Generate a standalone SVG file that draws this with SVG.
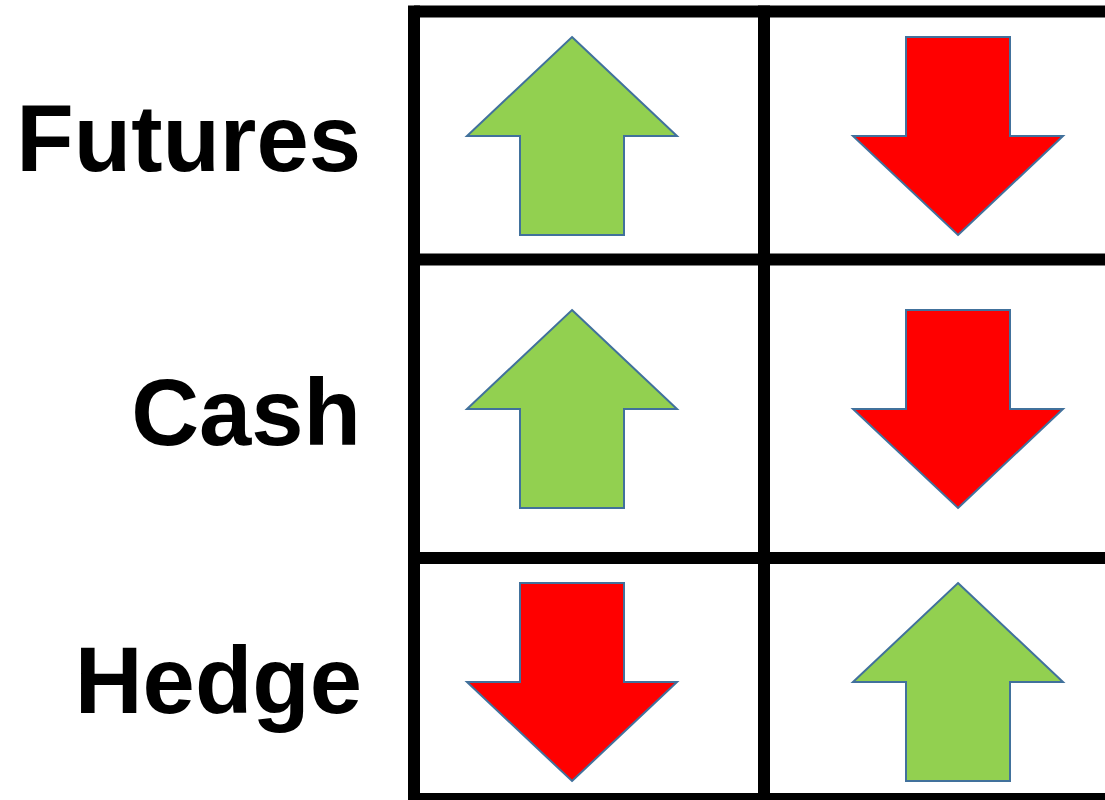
<svg xmlns="http://www.w3.org/2000/svg" width="1105" height="800" viewBox="0 0 1105 800">
<style>
.lbl{font-family:"Liberation Sans",Arial,sans-serif;font-weight:bold;font-size:94px;fill:#000;text-anchor:end}
.grid{stroke:#000;stroke-width:12;fill:none}
.up{fill:#92D050;stroke:#41719C;stroke-width:2}
.down{fill:#FF0000;stroke:#41719C;stroke-width:2}
</style>
<defs>
<path id="upArrow" d="M0,-99 L105,0 L52,0 L52,99 L-52,99 L-52,0 L-105,0 Z"/>
<path id="downArrow" d="M0,99 L105,0 L52,0 L52,-99 L-52,-99 L-52,0 L-105,0 Z"/>
</defs>
<rect width="1105" height="800" fill="#fff"/>
<g id="grid">
<line class="grid" x1="414" y1="11.5" x2="1110" y2="11.5"/>
<line class="grid" x1="414" y1="259.5" x2="1110" y2="259.5"/>
<line class="grid" x1="414" y1="558" x2="1110" y2="558"/>
<line class="grid" x1="414" y1="799" x2="1110" y2="799"/>
<line class="grid" x1="414" y1="5.5" x2="414" y2="805"/>
<line class="grid" x1="764" y1="5.5" x2="764" y2="805"/>
</g>
<g id="labels">
<text id="futures" class="lbl" x="361" y="171">Futures</text>
<text id="cash" class="lbl" x="361" y="445">Cash</text>
<text id="hedge" class="lbl" x="362" y="713">Hedge</text>
</g>
<g id="arrows">
<use id="a11" href="#upArrow" class="up" transform="translate(572,136)"/>
<use id="a12" href="#downArrow" class="down" transform="translate(958,136)"/>
<use id="a21" href="#upArrow" class="up" transform="translate(572,409)"/>
<use id="a22" href="#downArrow" class="down" transform="translate(958,409)"/>
<use id="a31" href="#downArrow" class="down" transform="translate(572,682)"/>
<use id="a32" href="#upArrow" class="up" transform="translate(958,682)"/>
</g>
</svg>
